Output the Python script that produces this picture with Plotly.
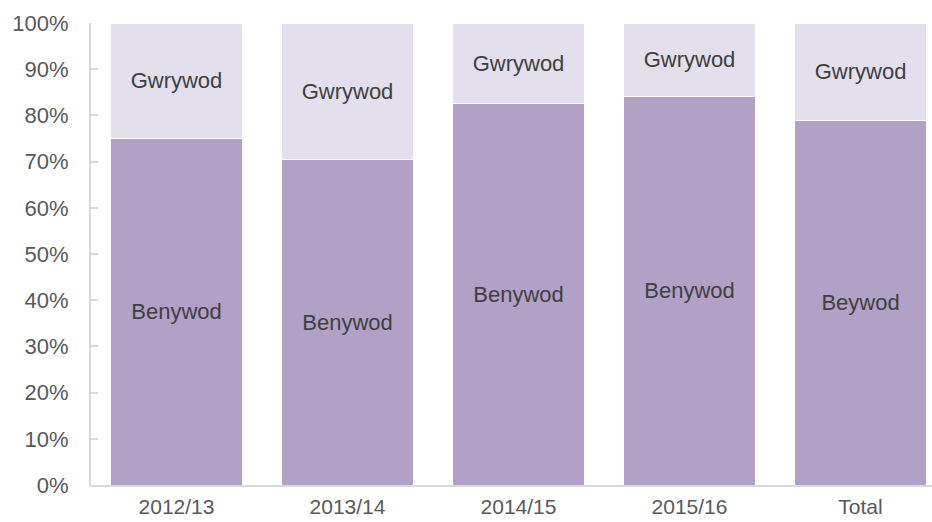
import plotly.graph_objects as go

categories = ["2012/13", "2013/14", "2014/15", "2015/16", "Total"]
female = [0.75, 0.705, 0.825, 0.84, 0.788]
male = [0.25, 0.295, 0.175, 0.16, 0.212]
female_labels = ["Benywod", "Benywod", "Benywod", "Benywod", "Beywod"]
male_labels = ["Gwrywod"] * 5

font = dict(family="Liberation Sans, Arial, sans-serif", size=22, color="#404040")

fig = go.Figure()
fig.add_trace(go.Bar(x=categories, y=female, text=female_labels, textposition="inside",
                     insidetextanchor="middle", textangle=0,
                     marker=dict(color="#b1a1c7", line=dict(color="white", width=1)),
                     textfont=font, hoverinfo="skip", name="Benywod"))
fig.add_trace(go.Bar(x=categories, y=male, text=male_labels, textposition="inside",
                     insidetextanchor="middle", textangle=0,
                     marker=dict(color="#e4dfec", line=dict(color="white", width=1)),
                     textfont=font, hoverinfo="skip", name="Gwrywod"))

fig.update_layout(
    barmode="stack", bargap=0.228, width=932, height=522,
    margin=dict(l=91, r=0, t=23, b=37),
    plot_bgcolor="white", paper_bgcolor="white", showlegend=False,
    font=dict(family="Liberation Sans, Arial, sans-serif", size=22, color="#595959"),
)
fig.update_xaxes(range=[-0.5, 4.418], showline=True, linecolor="#d9d9d9", linewidth=2,
                 ticks="", showgrid=False, ticklabelstandoff=2, automargin=False,
                 tickfont=dict(size=21, color="#595959"))
fig.update_yaxes(range=[0, 1], dtick=0.1, tickformat=".0%", showgrid=False, zeroline=False,
                 showline=True, linecolor="#d9d9d9", linewidth=2, ticks="inside", ticklen=7,
                 tickcolor="#d9d9d9", tickwidth=2, ticklabelstandoff=16, automargin=False,
                 tickfont=dict(size=22, color="#595959"))

fig.write_html("out.html")
